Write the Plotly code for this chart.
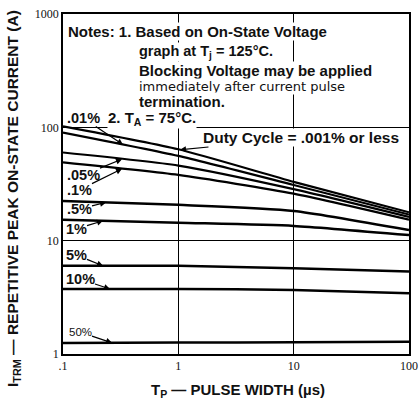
import numpy as np
import plotly.graph_objects as go

# ---- data ----
pulse_width = [0.1, 1, 10, 100]
i_0001 = [102, 64, 33, 17.8]     # .001 % or less
i_001 = [90, 56, 31, 17.0]       # .01 %
i_005 = [60, 46, 28.5, 16.2]     # .05 %
i_01 = [49, 38, 26, 15.3]        # .1 %
i_05 = [22.4, 20.7, 18.3, 12.4]  # .5 %
i_1 = [15.3, 14.4, 13.5, 11.2]   # 1 %
i_5 = [6.0, 6.0, 5.7, 5.35]      # 5 %
i_10 = [3.75, 3.75, 3.67, 3.43]  # 10 %
i_50 = [1.25, 1.26, 1.27, 1.28]  # 50 %

x_tickvals = [0.1, 1, 10, 100]
x_ticktext = [".1", "1", "10", "100"]
y_tickvals = [1, 10, 100, 1000]
y_ticktext = ["1", "10", "100", "1000"]

series = [
    (".001%", i_0001, 2.2), (".01%", i_001, 2.2), (".05%", i_005, 2.2), (".1%", i_01, 2.2),
    (".5%", i_05, 2.5), ("1%", i_1, 2.5), ("5%", i_5, 2.5), ("10%", i_10, 2.5), ("50%", i_50, 2.5),
]
curve = {name: vals for name, vals, _ in series}

W, H = 420, 405
L, R, T, B = 63, 11, 14, 51
PW, PH = W - L - R, H - T - B

def px_x(px):
    return (px - L) / PW

def px_y(py):
    return (T + PH - py) / PH

def xval_at(px):
    return 10 ** ((px - L) / (PW / 3) - 1)

def tip(name, px):
    xv = xval_at(px)
    yv = 10 ** np.interp(np.log10(xv), np.log10(pulse_width), np.log10(curve[name]))
    return xv, yv

def to_px(xv, yv):
    return L + (np.log10(xv) + 1) * PW / 3, T + PH - np.log10(yv) * PH / 3

fig = go.Figure()
for name, vals, w in series:
    fig.add_trace(go.Scatter(x=pulse_width, y=vals, mode="lines", name=name,
                             line=dict(color="black", width=w, shape="spline", smoothing=0.6),
                             showlegend=False, hoverinfo="skip"))

SANS = "Liberation Sans"
ann = []

def text(txt, px, py, size=15, fam=SANS, weight="bold"):
    ann.append(dict(text=txt, x=px_x(px), y=px_y(py), xref="paper", yref="paper",
                    xanchor="left", yanchor="middle", showarrow=False,
                    font=dict(family=fam, size=size, color="#111", weight=weight),
                    bgcolor="white", borderpad=0))

# notes
text("Notes: 1. Based on On-State Voltage", 67, 31)
text("graph at T<sub>j</sub> = 125°C.", 138, 52, size=14.5)
text("Blocking Voltage may be applied", 138, 71)
text("immediately after current pulse", 138, 86, size=13, fam="DejaVu Sans", weight="normal")
text("termination.", 138, 101)
text("2. T<sub>A</sub> = 75°C.", 107, 118)

# labels with leader arrows: (text, curve, text centre px, py, tip px, size)
labels = [
    (".01%", ".01%", 83, 118, 123, 14.5),
    ("Duty Cycle = .001% or less", ".001%", 301, 138, 180, 15.5),
    (".05%", ".05%", 83, 175, 122, 14.5),
    (".1%", ".1%", 79, 190, 122, 14.5),
    (".5%", ".5%", 79, 209, 106, 14.5),
    ("1%", "1%", 76, 229, 103, 14.5),
    ("5%", "5%", 76, 255, 103, 14.5),
    ("10%", "10%", 80, 279, 110, 14.5),
    ("50%", "50%", 80, 332, 112, 11.5),
]
for txt, name, cx, cy, tpx, size in labels:
    xv, yv = tip(name, tpx)
    tx, ty = to_px(xv, yv)
    ann.append(dict(text=txt, x=np.log10(xv), y=np.log10(yv), xref="x", yref="y",
                    ax=cx - tx, ay=cy - ty, showarrow=True, arrowhead=2,
                    arrowsize=1, arrowwidth=1.2, arrowcolor="black",
                    xanchor="center", yanchor="middle",
                    bgcolor="white" if name == ".001%" else None, borderpad=0,
                    font=dict(family=SANS, size=size, color="#111",
                              weight="bold" if name != "50%" else "normal")))

# axis titles
ann.append(dict(text="I<sub>TRM</sub> — REPETITIVE PEAK ON-STATE CURRENT (A)",
                x=px_x(13), y=px_y(199), xref="paper", yref="paper", textangle=-90,
                showarrow=False, xanchor="center", yanchor="middle",
                font=dict(family=SANS, size=15.5, color="#111", weight="bold")))
ann.append(dict(text="T<sub>P</sub> — PULSE WIDTH (µs)",
                x=px_x(238), y=px_y(390), xref="paper", yref="paper",
                showarrow=False, xanchor="center", yanchor="middle",
                font=dict(family=SANS, size=15, color="#111", weight="bold")))

axis_common = dict(type="log", showline=True, linecolor="black", linewidth=1.5, mirror=True,
                   showgrid=True, gridcolor="black", gridwidth=1, zeroline=False, ticks="",
                   automargin=False,
                   tickfont=dict(family="Liberation Serif", size=12, color="#111"))
fig.update_xaxes(range=[-1, 2], tickvals=x_tickvals, ticktext=x_ticktext, **axis_common)
fig.update_yaxes(range=[0, 3], tickvals=y_tickvals, ticktext=y_ticktext, **axis_common)

fig.update_layout(width=W, height=H, margin=dict(l=L, r=R, t=T, b=B),
                  paper_bgcolor="white", plot_bgcolor="white", annotations=ann)
fig.write_html("out.html", config={"displayModeBar": False},
               post_script="document.body.style.margin='0';")
